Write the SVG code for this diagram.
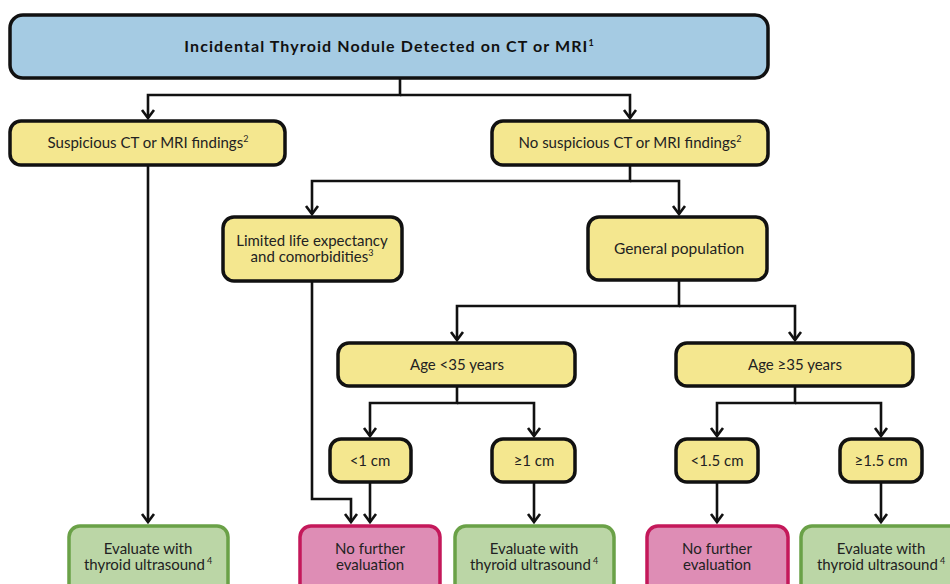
<svg xmlns="http://www.w3.org/2000/svg" width="950" height="584" viewBox="0 0 950 584">
<style>
.box{stroke:#111;stroke-width:3.5}
.blue{fill:#a5cbe3}
.yel{fill:#f4e78f}
.grn{fill:#bbd6a6;stroke:#6aa147;stroke-width:3.5}
.pnk{fill:#de8db5;stroke:#c4185a;stroke-width:3.5}
.t{font-family:Lato,"Open Sans",sans-serif;font-size:15px;fill:#222;text-anchor:middle}
.b{font-weight:bold;fill:#111;font-size:16px;letter-spacing:1.1px}
.c{fill:none;stroke:#111;stroke-width:2.6}
.sup{font-size:9px;letter-spacing:0}
</style>
<defs>
<marker id="ah" markerUnits="userSpaceOnUse" markerWidth="16" markerHeight="16" viewBox="-12 -8 14 16" refX="0" refY="0" orient="auto">
<path d="M-8,-6 L0,0 L-8,6" fill="none" stroke="#111" stroke-width="2.6"/>
</marker>
</defs>
<g id="connectors">
<path class="c" d="M400,78 V95 H148 V118" marker-end="url(#ah)"/>
<path class="c" d="M400,95 H630 V118" marker-end="url(#ah)"/>
<path class="c" d="M148,165 V522" marker-end="url(#ah)"/>
<path class="c" d="M630,165 V181 H312 V214" marker-end="url(#ah)"/>
<path class="c" d="M630,181 H679 V214" marker-end="url(#ah)"/>
<path class="c" d="M312,281 V499 H351 V522" marker-end="url(#ah)"/>
<path class="c" d="M679,280 V306 H457 V340" marker-end="url(#ah)"/>
<path class="c" d="M679,306 H795 V340" marker-end="url(#ah)"/>
<path class="c" d="M457,386 V403 H370 V436" marker-end="url(#ah)"/>
<path class="c" d="M457,403 H534 V436" marker-end="url(#ah)"/>
<path class="c" d="M795,386 V403 H717 V436" marker-end="url(#ah)"/>
<path class="c" d="M795,403 H881 V436" marker-end="url(#ah)"/>
<path class="c" d="M370,482 V522" marker-end="url(#ah)"/>
<path class="c" d="M534,482 V522" marker-end="url(#ah)"/>
<path class="c" d="M717,482 V522" marker-end="url(#ah)"/>
<path class="c" d="M881,482 V522" marker-end="url(#ah)"/>
</g>
<g id="top">
<rect class="box blue" x="10" y="15" width="758" height="63" rx="13"/>
<text class="t b" x="389" y="52">Incidental Thyroid Nodule Detected on CT or MRI<tspan class="sup" dy="-6">1</tspan></text>
</g>
<g id="suspicious">
<rect class="box yel" x="10" y="121" width="275" height="44" rx="11"/>
<text class="t" x="148" y="148">Suspicious CT or MRI findings<tspan class="sup" dy="-6">2</tspan></text>
</g>
<g id="nosuspicious">
<rect class="box yel" x="492" y="121" width="276" height="44" rx="11"/>
<text class="t" x="630" y="148">No suspicious CT or MRI findings<tspan class="sup" dy="-6">2</tspan></text>
</g>
<g id="limited">
<rect class="box yel" x="223" y="217" width="179" height="64" rx="11"/>
<text class="t" x="312" y="246">Limited life expectancy</text>
<text class="t" x="312" y="262">and comorbidities<tspan class="sup" dy="-6">3</tspan></text>
</g>
<g id="general">
<rect class="box yel" x="588" y="217" width="179" height="63" rx="11"/>
<text class="t" x="679" y="254" style="font-size:15.5px">General population</text>
</g>
<g id="agelt35">
<rect class="box yel" x="338" y="343" width="237" height="43" rx="11"/>
<text class="t" x="457" y="370">Age &lt;35 years</text>
</g>
<g id="agege35">
<rect class="box yel" x="676" y="343" width="237" height="43" rx="11"/>
<text class="t" x="795" y="370">Age ≥35 years</text>
</g>
<g id="lt1">
<rect class="box yel" x="330" y="439" width="81" height="43" rx="11"/>
<text class="t" x="370" y="466">&lt;1 cm</text>
</g>
<g id="ge1">
<rect class="box yel" x="492" y="439" width="83" height="43" rx="11"/>
<text class="t" x="534" y="466">≥1 cm</text>
</g>
<g id="lt15">
<rect class="box yel" x="676" y="439" width="82" height="43" rx="11"/>
<text class="t" x="717" y="466">&lt;1.5 cm</text>
</g>
<g id="ge15">
<rect class="box yel" x="840" y="439" width="82" height="43" rx="11"/>
<text class="t" x="881" y="466">≥1.5 cm</text>
</g>
<g id="eval1">
<rect class="grn" x="69" y="526" width="159" height="70" rx="11"/>
<text class="t" x="148" y="554">Evaluate with</text>
<text class="t" x="148" y="570">thyroid ultrasound<tspan class="sup" dy="-6" dx="2">4</tspan></text>
</g>
<g id="nofurther1">
<rect class="pnk" x="300" y="526" width="140" height="70" rx="11"/>
<text class="t" x="370" y="554">No further</text>
<text class="t" x="370" y="570">evaluation</text>
</g>
<g id="eval2">
<rect class="grn" x="455" y="526" width="159" height="70" rx="11"/>
<text class="t" x="534" y="554">Evaluate with</text>
<text class="t" x="534" y="570">thyroid ultrasound<tspan class="sup" dy="-6" dx="2">4</tspan></text>
</g>
<g id="nofurther2">
<rect class="pnk" x="647" y="526" width="141" height="70" rx="11"/>
<text class="t" x="717" y="554">No further</text>
<text class="t" x="717" y="570">evaluation</text>
</g>
<g id="eval3">
<rect class="grn" x="801" y="526" width="160" height="70" rx="11"/>
<text class="t" x="881" y="554">Evaluate with</text>
<text class="t" x="881" y="570">thyroid ultrasound<tspan class="sup" dy="-6" dx="2">4</tspan></text>
</g>
</svg>
